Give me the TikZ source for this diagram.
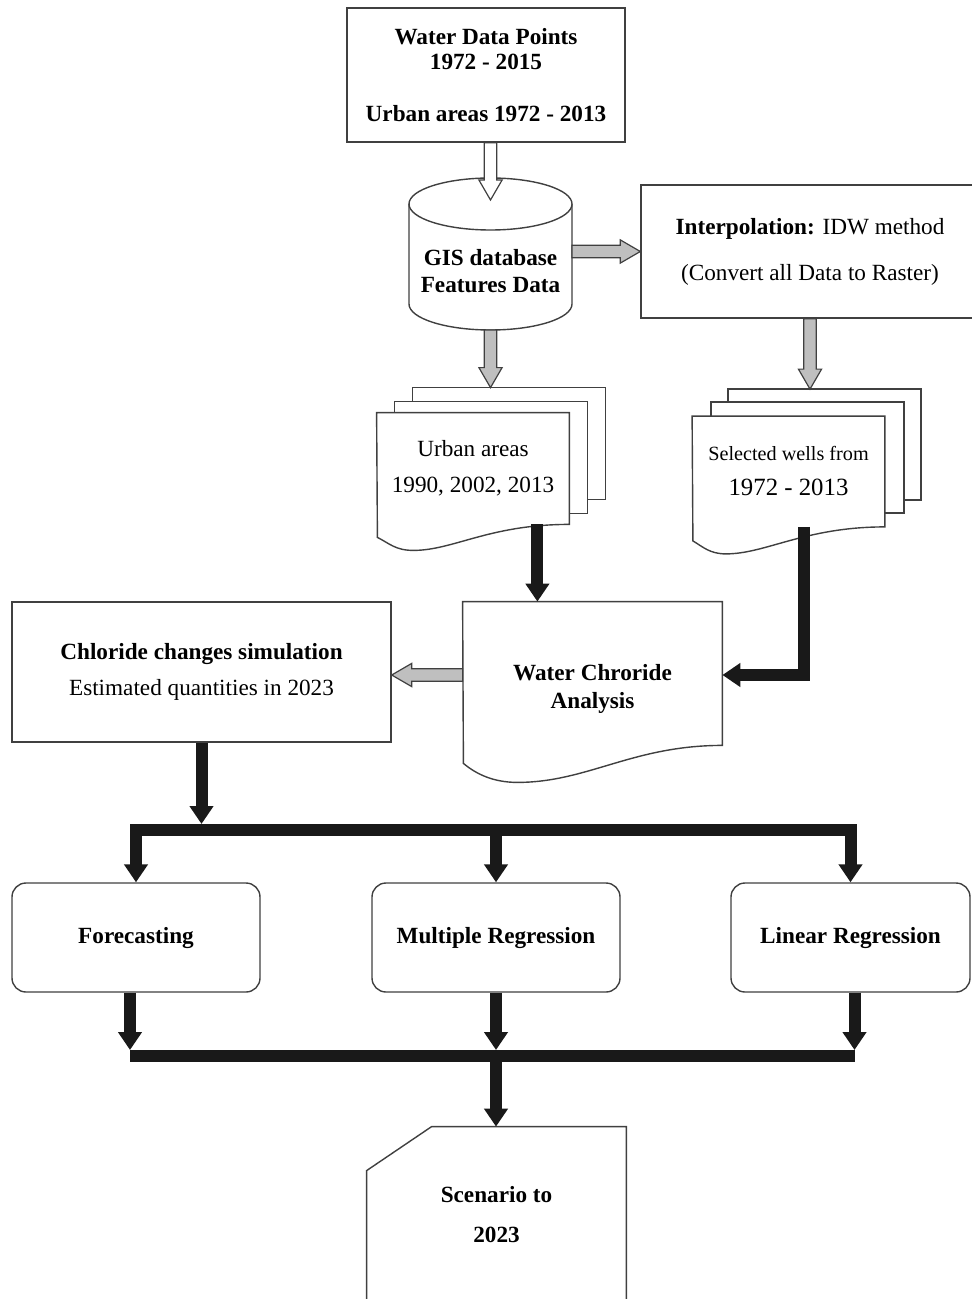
\documentclass[tikz,border=0pt]{standalone}
\usepackage{fontspec}
\setmainfont{Liberation Serif}
\usetikzlibrary{arrows.meta}
\usetikzlibrary{calc}
\usetikzlibrary{backgrounds}

\tikzset{
  box/.style={draw=black!75, line width=0.7pt, fill=white, align=center, inner sep=0pt},
  rbox/.style={box, rounded corners=7pt},
  txt/.style={align=center, inner sep=0pt},
  outl/.style={draw=black!75, line width=0.7pt, fill=white},
  Blk/.tip={Triangle[width=11.5pt,length=9pt]},
  blk/.style={draw=black!90, line width=6pt, -Blk},
}

% wide arrow with outline, from #2 to #3, filled with #1
\newcommand{\blockarrow}[3]{%
  \coordinate (ba-s) at (#2);
  \coordinate (ba-t) at (#3);
  \coordinate (ba-h) at ($(ba-t)!10pt!(ba-s)$);
  \draw[draw=black!75, line width=0.6pt, fill=#1]
    ($(ba-s)!3.1pt!90:(ba-t)$) -- ($(ba-h)!3.1pt!90:(ba-t)$) -- ($(ba-h)!5.8pt!90:(ba-t)$)
    -- (ba-t) -- ($(ba-h)!5.8pt!-90:(ba-t)$) -- ($(ba-h)!3.1pt!-90:(ba-t)$)
    -- ($(ba-s)!3.1pt!-90:(ba-t)$) -- cycle;}

\begin{document}
\begin{tikzpicture}[x=0.5pt, y=-0.5pt, font=\fontsize{11.6}{13.5}\selectfont]
\useasboundingbox (0,0) rectangle (972,1299);

\node[box, minimum width=139pt, minimum height=67pt, font=\fontsize{11.6}{12.5}\selectfont] (top) at (486,75)
  {\textbf{Water Data Points}\\\textbf{1972 - 2015}\\[13.5pt]\textbf{Urban areas 1972 - 2013}};
\node[txt, minimum width=81.5pt] (gis) at (490.5,271) {\textbf{GIS database}\\\textbf{Features Data}};
\node[box, minimum width=169pt, minimum height=66.5pt] (interp) at (810,251.5)
  {\textbf{Interpolation:} IDW method\\[9.5pt](Convert all Data to Raster)};
\node[txt, minimum width=96pt, minimum height=55.5pt] (urban) at (473,468.5) {Urban areas\\[4.5pt]1990, 2002, 2013};
\node[txt, minimum width=96pt, minimum height=55pt] (wells) at (788.5,471.5)
  {{\fontsize{10.1}{12}\selectfont Selected wells from}\\[4pt]{\fontsize{12.4}{14}\selectfont 1972 - 2013}};
\node[txt, minimum width=129.5pt, minimum height=87pt] (water) at (592.5,689) {\textbf{Water Chroride}\\[0.5pt]\textbf{Analysis}};
\node[box, minimum width=189.5pt, minimum height=70pt] (chl) at (201.5,672)
  {\textbf{Chloride changes simulation}\\[4.5pt]Estimated quantities in 2023};
\node[rbox, minimum width=124pt, minimum height=54.5pt] (fore) at (136,937.5) {\textbf{Forecasting}};
\node[rbox, minimum width=124pt, minimum height=54.5pt] (mul) at (496,937.5) {\textbf{Multiple Regression}};
\node[rbox, minimum width=119.5pt, minimum height=54.5pt] (lin) at (850.5,937.5) {\textbf{Linear Regression}};
\node[txt, minimum width=129.5pt, minimum height=88pt] (scen) at (496.5,1215) {\textbf{Scenario to}\\[6.5pt]\textbf{2023}};

\begin{scope}[on background layer]
% database
\draw[outl] (409,204) -- (409,304) arc[start angle=180, end angle=360, x radius=40.75pt, y radius=13pt] -- (572,204);
\draw[outl] (490.5,204) ellipse [x radius=40.75pt, y radius=13pt];
% document stacks
\draw[outl] ([shift={(18pt,12.5pt)}]urban.north west) rectangle ([shift={(18pt,12.5pt)}]urban.south east);
\draw[outl] ([shift={(9pt,5.5pt)}]urban.north west) rectangle ([shift={(9pt,5.5pt)}]urban.south east);
\draw[outl] (urban.north west) -- (urban.north east) -- (urban.south east)
  .. controls +(-80,0) and +(40,0) .. ++(-156,26)
  .. controls +(-18,0) and +(12,6) .. ++(-36,-13) -- cycle;
\draw[outl] ([shift={(18pt,13.5pt)}]wells.north west) rectangle ([shift={(18pt,13.5pt)}]wells.south east);
\draw[outl] ([shift={(9.5pt,7pt)}]wells.north west) rectangle ([shift={(9.5pt,7pt)}]wells.south east);
\draw[outl] (wells.north west) -- (wells.north east) -- (wells.south east)
  .. controls +(-80,0) and +(40,0) .. ++(-159,27)
  .. controls +(-16,0) and +(10,6) .. ++(-33,-13) -- cycle;
\draw[outl] (water.north west) -- (water.north east) -- ([yshift=15.5pt]water.south east)
  .. controls +(-90,0) and +(70,0) .. ++(-205,37)
  .. controls +(-25,0) and +(12,10) .. ++(-54,-19) -- cycle;
\draw[outl] (scen.south east) -- (scen.north east) -- ([xshift=32.5pt]scen.north west)
  -- ([yshift=-22pt]scen.north west) -- (scen.south west);
\end{scope}

\coordinate (gistop) at (490.5,200);
\coordinate (gisbot) at (490.5,330);
\coordinate (gisright) at (572,251.5);
\coordinate (watin) at ([yshift=7pt]water.east);
\blockarrow{white}{gistop |- top.south}{gistop}
\blockarrow{gray!50}{gisright}{gisright -| interp.west}
\blockarrow{gray!50}{gisbot}{[yshift=12.5pt]gisbot |- urban.north}
\blockarrow{gray!50}{interp.south}{[yshift=13.5pt]interp.south |- wells.north}
\blockarrow{gray!50}{watin -| water.west}{watin -| chl.east}

\draw[blk] ([xshift=-16pt]urban.south east) -- ([xshift=-16pt]urban.south east |- water.north);
\draw[blk] ([xshift=-40.5pt]wells.south east) |- (watin);

\coordinate (bus1) at (496,830);
\coordinate (bus2) at (496,1056);
\draw[blk] (chl.south) -- ([yshift=3pt]chl.south |- bus1);
\draw[blk, Blk-Blk] (fore.north) |- (bus1) -| (lin.north);
\draw[blk] (bus1) -- (mul.north);
\draw[blk] ([xshift=-3pt]fore.south) -- ([xshift=-3pt,yshift=3pt]fore.south |- bus2);
\draw[blk] (mul.south) -- ([yshift=3pt]mul.south |- bus2);
\draw[blk] ([xshift=2pt]lin.south) -- ([xshift=2pt,yshift=3pt]lin.south |- bus2);
\draw[blk, -] ([xshift=-3pt]fore.south |- bus2) -- ([xshift=2pt]lin.south |- bus2);
\draw[blk] (bus2) -- (bus2 |- scen.north);
\end{tikzpicture}
\end{document}
